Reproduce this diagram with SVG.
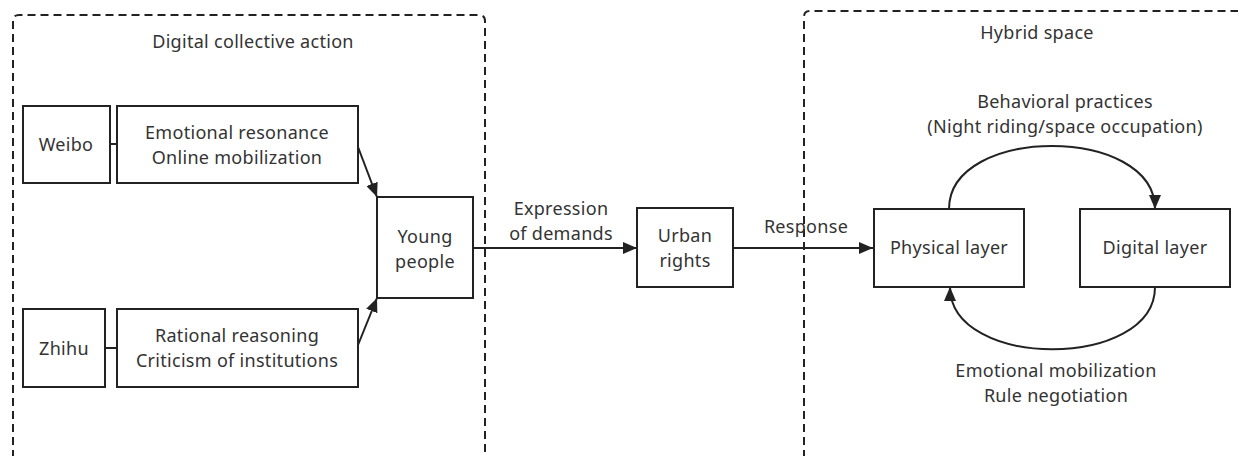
<svg xmlns="http://www.w3.org/2000/svg" width="1238" height="456" viewBox="0 0 1238 456">
<style>
text{font-family:"Noto Sans","Open Sans","Liberation Sans",sans-serif;font-size:18px;letter-spacing:0.3px;fill:#333;text-anchor:middle}
.box{fill:#fff;stroke:#222;stroke-width:2}
.grp{fill:none;stroke:#222;stroke-width:2;stroke-dasharray:8 5}
.c{fill:none;stroke:#222;stroke-width:2}
</style>
<defs>
<marker id="ah" viewBox="0 0 14 12" refX="14" refY="6" markerWidth="14" markerHeight="12" markerUnits="userSpaceOnUse" orient="auto">
<path d="M0 0L14 6L0 12Z" fill="#222"/>
</marker>
</defs>
<g id="group-digital">
<path class="grp" d="M13 458V21Q13 15 19 15H479Q485 15 485 21V458"/>
<text x="253" y="48">Digital collective action</text>
</g>
<g id="group-hybrid">
<path class="grp" d="M804 458V17Q804 11 810 11H1240"/>
<text x="1037" y="39">Hybrid space</text>
</g>
<g id="connectors">
<line class="c" x1="110" y1="144" x2="117" y2="144"/>
<line class="c" x1="105" y1="348" x2="117" y2="348"/>
<line class="c" x1="358" y1="147" x2="377" y2="197" marker-end="url(#ah)"/>
<line class="c" x1="358" y1="345" x2="377" y2="298" marker-end="url(#ah)"/>
<line class="c" x1="473" y1="248" x2="637" y2="248" marker-end="url(#ah)"/>
<line class="c" x1="733" y1="248" x2="873" y2="248" marker-end="url(#ah)"/>
<path class="c" d="M949 209C949 125 1155 125 1155 209" marker-end="url(#ah)"/>
<path class="c" d="M1155 287C1155 370 950 370 950 287" marker-end="url(#ah)"/>
<text x="561" y="215">Expression<tspan x="561" dy="25">of demands</tspan></text>
<text x="806" y="233">Response</text>
<text x="1065" y="108">Behavioral practices<tspan x="1065" dy="25">(Night riding/space occupation)</tspan></text>
<text x="1056" y="377">Emotional mobilization<tspan x="1056" dy="25">Rule negotiation</tspan></text>
</g>
<g id="weibo">
<rect class="box" x="23" y="106" width="87" height="77"/>
<text x="66" y="151">Weibo</text>
</g>
<g id="emotional">
<rect class="box" x="117" y="106" width="241" height="77"/>
<text x="237" y="139">Emotional resonance<tspan x="237" dy="25">Online mobilization</tspan></text>
</g>
<g id="zhihu">
<rect class="box" x="23" y="309" width="82" height="78"/>
<text x="64" y="355">Zhihu</text>
</g>
<g id="rational">
<rect class="box" x="117" y="309" width="241" height="78"/>
<text x="237" y="342">Rational reasoning<tspan x="237" dy="25">Criticism of institutions</tspan></text>
</g>
<g id="young">
<rect class="box" x="377" y="197" width="96" height="101"/>
<text x="425" y="243">Young<tspan x="425" dy="25">people</tspan></text>
</g>
<g id="urban">
<rect class="box" x="637" y="208" width="96" height="79"/>
<text x="685" y="242">Urban<tspan x="685" dy="25">rights</tspan></text>
</g>
<g id="physical">
<rect class="box" x="874" y="209" width="150" height="78"/>
<text x="949" y="254">Physical layer</text>
</g>
<g id="digital">
<rect class="box" x="1080" y="209" width="150" height="78"/>
<text x="1155" y="254">Digital layer</text>
</g>
</svg>
